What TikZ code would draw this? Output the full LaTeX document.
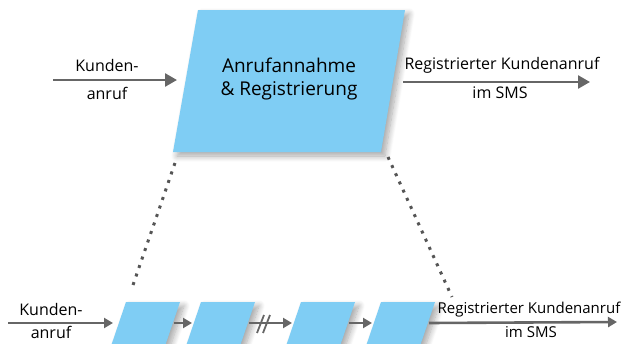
\documentclass[tikz,border=0pt]{standalone}
\usepackage{fontspec}
\setmainfont{Open Sans}
\usetikzlibrary{arrows.meta,shadows.blur}
\definecolor{boxblue}{HTML}{7FCDF4}
\definecolor{arrgray}{HTML}{666666}
\definecolor{dotgray}{HTML}{555555}
\tikzset{
  procbox/.style={fill=boxblue,draw=none,blur shadow={shadow xshift=4pt,shadow yshift=-4pt,shadow blur steps=10,shadow opacity=35,shadow blur radius=6pt}},
  flowarrow/.style={draw=arrgray,line width=2.6pt,-{Triangle[length=12pt,width=13pt]}},
  smallarrow/.style={draw=arrgray,line width=2.6pt,-{Triangle[length=9pt,width=10pt]}},
  lbl/.style={font=\fontsize{16}{19}\selectfont,inner sep=0pt,align=center},
  lblsm/.style={font=\fontsize{15}{18}\selectfont,inner sep=0pt,align=center},
  bigtxt/.style={font=\fontsize{19}{23}\selectfont,inner sep=0pt,align=center},
  zoomline/.style={draw=dotgray,line width=3pt,dash pattern=on 3pt off 6pt},
}
\begin{document}
\begin{tikzpicture}[x=1pt,y=-1pt]
\useasboundingbox (0,0) rectangle (624,343);
\begin{scope}
\clip (0,0) rectangle (624,343);
% big process
\path[procbox] (198,10) -- (405,10) -- (381,152) -- (173,152) -- cycle;
\node[bigtxt] (main) at (289,79) {Anrufannahme\\\& Registrierung};
\coordinate (mainL) at (177,80);
\coordinate (mainR) at (403,82);
\coordinate (inL) at (53,80);
\coordinate (outR) at (590,82);
\draw[flowarrow] (inL) -- (mainL) ;
\draw[flowarrow] (mainR) -- (outR);
\node[lbl] (in1) at (107,65) {Kunden-};
\node[lbl] (in2) at (107,93) {anruf};
\node[lbl] (out1) at (502,65) {Registrierter Kundenanruf};
\node[lbl] (out2) at (500,93) {im SMS};
% small processes
\foreach \x/\n in {126/s1,201/s2,301/s3,381/s4}{
  \path[procbox] (\x,302) -- (\x+54,302) -- (\x+54-17,352) -- (\x-17,352) -- cycle;
  \coordinate (\n L) at (\x-9,323);
  \coordinate (\n R) at (\x+48,323);
}
\coordinate (binL) at (8,323);
\coordinate (s1in) at (113,323);
\coordinate (boutR) at (617,322);
\draw[smallarrow] (binL) -- (s1in);
\draw[smallarrow] (s1R) -- (s2L);
\draw[smallarrow] (s2R) -- (s3L);
\draw[draw=arrgray,line width=1.8pt] (257,333) -- (264,315) (263,333) -- (270,315);
\draw[smallarrow] (s3R) -- (s4L);
\draw[smallarrow] (s4R) -- (boutR);
\node[lbl] (bin1) at (51,309) {Kunden-};
\node[lbl] (bin2) at (51,332) {anruf};
\node[lblsm] (bout1) at (529,310) {Registrierter Kundenanruf};
\node[lblsm] (bout2) at (531,332) {im SMS};
% zoom lines
\coordinate (zl1) at (175,163);
\coordinate (zl2) at (133,285);
\coordinate (zr1) at (388,157);
\coordinate (zr2) at (452,297);
\draw[zoomline] (zl1) -- (zl2);
\draw[zoomline] (zr1) -- (zr2);
\end{scope}
\end{tikzpicture}
\end{document}
